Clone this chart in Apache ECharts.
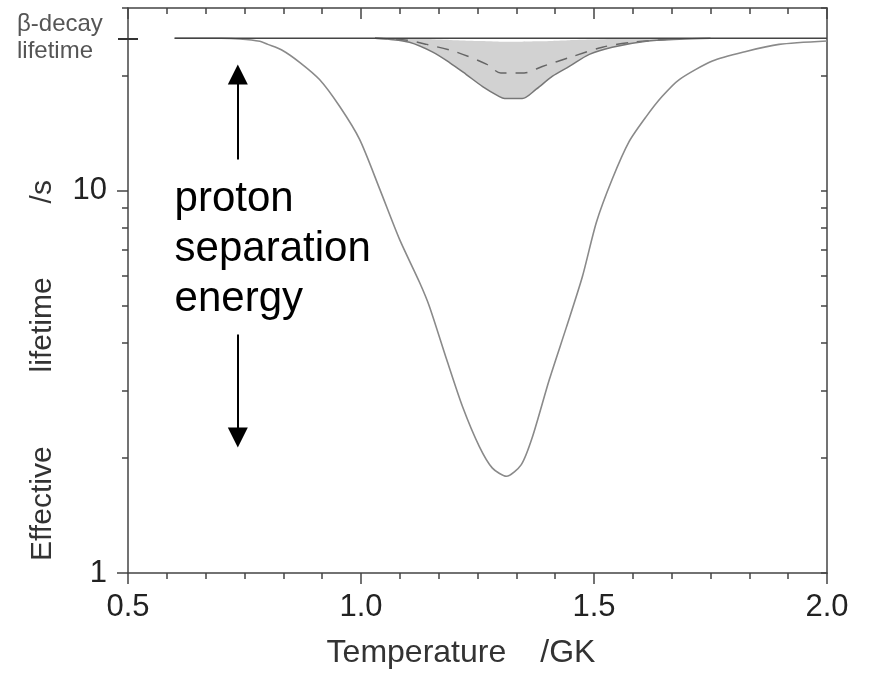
<!DOCTYPE html>
<html>
<head>
<meta charset="utf-8">
<style>
html,body{margin:0;padding:0;background:#fff;}
#chart{width:870px;height:676px;}
</style>
<script src="https://cdn.jsdelivr.net/npm/echarts@6/dist/echarts.min.js"></script>
</head>
<body>
<div id="chart"></div>
<script>
// ---- data ----
const betaLifetime = 25;
const mainT = [0.60, 0.70, 0.74, 0.783, 0.80, 0.83, 0.869, 0.911, 0.954, 0.997, 1.040, 1.083, 1.126, 1.147, 1.184, 1.218, 1.254, 1.282, 1.312, 1.344, 1.368, 1.404, 1.441, 1.475, 1.505, 1.539, 1.575, 1.612, 1.646, 1.683, 1.754, 1.826, 1.897, 2.00];
const mainV = [25, 25, 24.9, 24.55, 24.1, 23.3, 21.6, 19.5, 16.6, 13.6, 10.1, 7.44, 5.74, 4.97, 3.61, 2.72, 2.14, 1.88, 1.79, 1.92, 2.27, 3.20, 4.40, 5.95, 8.25, 10.7, 13.4, 15.6, 17.6, 19.5, 21.8, 23.1, 24.1, 24.6];
const bandT = [1.03, 1.06, 1.104, 1.154, 1.190, 1.226, 1.261, 1.297, 1.308, 1.346, 1.376, 1.411, 1.447, 1.490, 1.539, 1.612, 1.683, 1.75];
const bandLower = [25, 24.85, 24.4, 23.0, 21.6, 20.1, 18.7, 17.6, 17.4, 17.4, 18.4, 19.9, 21.1, 22.7, 23.7, 24.55, 24.85, 25];
const bandUpper = [25, 25, 24.95, 24.85, 24.75, 24.65, 24.6, 24.5, 24.5, 24.5, 24.55, 24.6, 24.7, 24.8, 24.9, 24.97, 25, 25];
const midT = [1.03, 1.10, 1.141, 1.205, 1.269, 1.30, 1.35, 1.389, 1.454, 1.518, 1.582, 1.68];
const midV = [25, 24.7, 24.1, 23.0, 21.4, 20.3, 20.3, 21.1, 22.4, 23.7, 24.4, 25];
const yMajor = [1, 10];
const yMinor = [2, 3, 4, 5, 6, 7, 8, 9, 20, 30];
const arrowUp = [[0.7357, 12.05], [0.7357, 20.1]];
const arrowDown = [[0.7357, 4.2], [0.7357, 2.26]];
const noteText = 'proton\nseparation\nenergy';
const notePos = [0.60, 7.03];

const pair = (xs, ys) => xs.map((x, i) => [x, ys[i]]);
const FONT = "'Liberation Sans', Arial, sans-serif";
const axisCol = '#444';

const chart = echarts.init(document.getElementById('chart'), null, {renderer: 'canvas'});

const yCommon = {type: 'log', logBase: 10, min: 1, max: 30, splitLine: {show: false}};

const option = {
  animation: false,
  backgroundColor: '#fff',
  grid: {left: 128, right: 43, top: 8, bottom: 103},
  xAxis: [
    {
      type: 'value', position: 'bottom', min: 0.5, max: 2.0, interval: 0.5,
      axisLine: {lineStyle: {color: axisCol, width: 1.5}},
      axisTick: {show: true, length: 11, lineStyle: {color: axisCol, width: 1.5}},
      minorTick: {show: true, splitNumber: 6, length: 6, lineStyle: {color: axisCol, width: 1.5}},
      splitLine: {show: false},
      axisLabel: {fontSize: 31, color: '#222', fontFamily: FONT, margin: 19,
        formatter: v => v.toFixed(1)},
      name: '{a|Temperature}{g| }{a|/GK}', nameLocation: 'middle', nameGap: 64,
      nameTextStyle: {fontSize: 32, color: '#333', fontFamily: FONT, padding: [0, 33, 0, 0],
        rich: {a: {fontSize: 32, color: '#333', fontFamily: FONT}, g: {fontSize: 32, width: 34}}}
    },
    {
      type: 'value', position: 'top', min: 0.5, max: 2.0, interval: 0.5,
      axisLine: {lineStyle: {color: axisCol, width: 1.5}},
      axisTick: {show: true, inside: true, length: 11, lineStyle: {color: axisCol, width: 1.5}},
      minorTick: {show: true, splitNumber: 6, length: 6, lineStyle: {color: axisCol, width: 1.5}},
      splitLine: {show: false},
      axisLabel: {show: false}
    }
  ],
  yAxis: [
    Object.assign({}, yCommon, {
      position: 'left',
      axisLine: {show: true, lineStyle: {color: axisCol, width: 1.5}},
      axisTick: {show: true, length: 11, customValues: yMajor, lineStyle: {color: axisCol, width: 1.5}},
      axisLabel: {customValues: yMajor, fontSize: 31, color: '#222', fontFamily: FONT, margin: 21},
      name: '{a|Effective}{g| }{a|lifetime}{g| }{a|/s}', nameLocation: 'middle', nameGap: 70,
      nameTextStyle: {fontSize: 30, color: '#333', fontFamily: FONT, padding: [0, 160, 0, 0],
        rich: {a: {fontSize: 30, color: '#333', fontFamily: FONT}, g: {fontSize: 30, width: 74}}}
    }),
    Object.assign({}, yCommon, {
      position: 'left',
      axisLine: {show: false},
      axisTick: {show: true, length: 6, customValues: yMinor, lineStyle: {color: axisCol, width: 1.5}},
      axisLabel: {show: false}
    }),
    Object.assign({}, yCommon, {
      position: 'left',
      axisLine: {show: false},
      axisTick: {show: true, length: 10, customValues: [betaLifetime], lineStyle: {color: '#333', width: 2}},
      axisLabel: {customValues: [betaLifetime], formatter: () => 'β-decay\nlifetime', fontSize: 24,
        lineHeight: 27, color: '#555', fontFamily: FONT, margin: 25, align: 'left', padding: [0, 0, 0, -86]}
    }),
    Object.assign({}, yCommon, {
      position: 'left',
      axisLine: {show: false},
      axisTick: {show: true, inside: true, length: 10, customValues: [betaLifetime], lineStyle: {color: '#333', width: 2}},
      axisLabel: {show: false}
    }),
    Object.assign({}, yCommon, {
      position: 'right',
      axisLine: {show: true, lineStyle: {color: axisCol, width: 1.5}},
      axisTick: {show: true, inside: true, length: 6, customValues: yMajor.concat(yMinor), lineStyle: {color: axisCol, width: 1.5}},
      axisLabel: {show: false}
    })
  ],
  series: [
    {
      type: 'custom', z: 1, silent: true,
      data: [[1.3, 24]],
      renderItem: function (params, api) {
        const up = bandT.map((t, i) => api.coord([t, bandUpper[i]]));
        const lo = bandT.map((t, i) => api.coord([t, bandLower[i]])).reverse();
        return {
          type: 'polygon',
          shape: {points: up.concat(lo), smooth: 0.2},
          style: {fill: '#d2d2d2', stroke: null}
        };
      }
    },
    {
      type: 'line', z: 3, showSymbol: false, silent: true, smooth: 0.3,
      data: pair(midT, midV),
      lineStyle: {color: '#666', width: 1.5, type: [12, 9]}
    },
    {
      type: 'line', z: 3, showSymbol: false, silent: true, smooth: 0.3,
      data: pair(bandT, bandLower),
      lineStyle: {color: '#777', width: 1.5}
    },
    {
      type: 'line', z: 4, showSymbol: false, silent: true, smooth: 0.25,
      data: pair(mainT, mainV),
      lineStyle: {color: '#8a8a8a', width: 1.6}
    },
    {
      type: 'line', z: 5, showSymbol: false, silent: true,
      data: [[0.6, betaLifetime], [2.0, betaLifetime]],
      lineStyle: {color: '#444', width: 1.5},
      markLine: {
        silent: true, animation: false,
        symbol: ['none', 'triangle'], symbolSize: [20, 20],
        label: {show: false},
        lineStyle: {color: '#000', width: 2, type: 'solid'},
        data: [
          [{coord: arrowUp[0]}, {coord: arrowUp[1]}],
          [{coord: arrowDown[0]}, {coord: arrowDown[1]}]
        ]
      },
      markPoint: {
        silent: true, symbol: 'circle', symbolSize: 0,
        itemStyle: {color: 'transparent'},
        label: {show: true, position: 'right', distance: 0, formatter: noteText,
          fontSize: 42, lineHeight: 50, color: '#000', fontFamily: FONT, align: 'left', verticalAlign: 'middle'},
        data: [{coord: notePos}]
      }
    }
  ]
};
chart.setOption(option);
</script>
</body>
</html>
